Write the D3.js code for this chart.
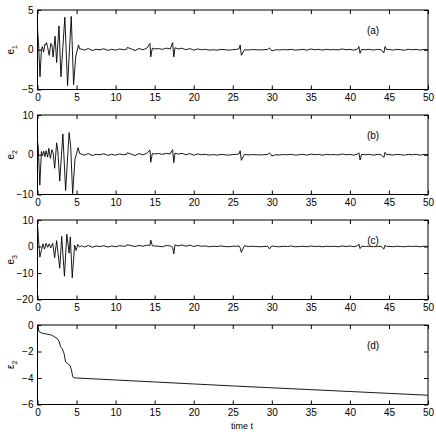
<!DOCTYPE html>
<html>
<head>
<meta charset="utf-8">
<script src="https://cdn.jsdelivr.net/npm/d3@7"></script>
<style>
  body { margin: 0; background: #fff; }
  svg { display: block; font-family: "Liberation Sans", Arial, sans-serif; }
</style>
</head>
<body>
<svg width="436" height="436"></svg>
<script>
// x ticks shared by every panel
const xTicks = [0, 5, 10, 15, 20, 25, 30, 35, 40, 45, 50];

// transient part (t, value) for 0..5.4
const e1Start = [[0,2.6],[0.15,0.5],[0.32,-3.4],[0.5,0],[0.62,0.4],[0.78,-0.3],[0.95,0.7],[1.05,0.6],[1.15,0.9],[1.3,0.3],
  [1.5,-0.7],[1.7,0.8],[1.85,0.6],[2.0,-0.9],[2.25,1.7],[2.45,-1.6],[2.75,3.0],[3.0,-3.4],[3.5,4.1],[3.85,-4.5],
  [4.32,4.2],[4.62,-4.4],[4.9,-0.8],[5.05,-0.2],[5.25,0.6],[5.4,0.1]];
const e2Start = [[0,3.3],[0.1,2.0],[0.3,-7.6],[0.5,0.8],[0.65,-0.2],[0.8,0.9],[0.95,-0.5],[1.1,1.0],[1.3,-0.6],[1.45,1.6],
  [1.65,-0.9],[1.85,1.3],[2.0,0.5],[2.2,-3.4],[2.45,3.0],[2.6,1.0],[2.85,-6.6],[3.25,5.2],[3.6,-9.0],[4.05,5.6],
  [4.25,2.0],[4.5,-9.8],[4.8,-1.0],[5.0,0.2],[5.2,1.8],[5.4,0.3]];
const e3Start = [[0,8.5],[0.12,3],[0.3,-4.0],[0.5,-1.5],[0.7,1.0],[0.9,-1.0],[1.1,1.2],[1.3,-0.3],[1.5,1.0],[1.7,-0.5],
  [1.95,1.2],[2.2,-4.2],[2.45,2.2],[2.85,-8.2],[3.1,3.8],[3.45,-11.2],[3.75,4.6],[4.05,-2.5],[4.2,3.6],[4.45,-11.8],
  [4.75,0.5],[4.95,-1.5],[5.15,0.8],[5.4,-0.2]];

// steady part, shared time base
const tailT = [
  5.6, 6, 6.5, 7, 7.5, 8, 8.5, 9, 9.5, 10,
  10.5, 11, 11.4, 11.5, 12, 12.5, 13, 13.5, 14, 14.4,
  14.5, 14.7, 15, 15.5, 16, 16.5, 17, 17.3, 17.45, 17.6,
  18, 18.5, 19, 19.5, 20, 20.5, 21, 21.5, 22, 22.5,
  23, 23.5, 24, 24.5, 25, 25.5, 25.8, 25.95, 26.1, 26.5,
  27, 27.5, 28, 28.5, 29, 29.5, 29.7, 30, 30.5, 31,
  31.5, 32, 32.5, 33, 33.5, 34, 34.5, 35, 35.5, 36,
  36.5, 37, 37.5, 38, 38.5, 39, 39.5, 40, 40.5, 41,
  41.15, 41.3, 41.5, 42, 42.5, 43, 43.5, 44, 44.35, 44.5,
  44.7, 45, 45.5, 46, 46.5, 47, 47.5, 48, 48.5, 49,
  49.5, 50];
const e1Tail = [
  0.1, -0.05, 0.15, -0.1, 0.05, 0.0, 0.12, -0.08, 0.05, -0.05,
  0.1, 0.0, 0.05, 0.3, 0.1, -0.1, 0.15, 0.0, 0.2, 0.8,
  -0.9, 0.2, 0.1, 0.15, 0.05, 0.2, 0.1, 0.9, -0.9, 0.25,
  0.1, 0.2, 0.0, 0.15, -0.05, 0.1, 0.0, 0.05, -0.05, 0.0,
  -0.05, 0.05, 0.0, -0.05, 0.0, 0.05, 0.1, 0.6, -0.7, 0.0,
  -0.02, 0.02, 0.0, -0.02, 0.0, 0.05, 0.25, -0.15, 0.0, -0.02,
  0.02, 0.0, 0.05, -0.05, 0.0, 0.05, -0.05, 0.1, 0.0, 0.05,
  -0.05, 0.05, 0.0, 0.02, -0.02, 0.1, 0.0, 0.05, -0.05, 0.1,
  0.4, -0.45, 0.05, 0.0, 0.05, -0.05, 0.05, 0.0, -0.4, 0.4,
  0.0, 0.05, -0.05, 0.05, 0.0, -0.05, 0.05, 0.0, 0.05, -0.05,
  0.05, 0.0];
const e2Tail = [
  0.2, -0.1, 0.3, -0.2, 0.1, 0.0, 0.25, -0.15, 0.1, -0.1,
  0.2, 0.0, 0.1, 0.5, 0.15, -0.2, 0.3, 0.0, 0.35, 1.2,
  -1.9, 0.3, 0.2, 0.3, 0.1, 0.35, 0.2, 1.3, -2.0, 0.4,
  0.15, 0.35, 0.0, 0.3, -0.1, 0.2, 0.0, 0.1, -0.1, 0.05,
  -0.1, 0.1, 0.0, -0.1, 0.05, 0.1, 0.2, 1.0, -1.4, 0.1,
  -0.05, 0.05, 0.0, -0.05, 0.0, 0.1, 0.5, -0.3, 0.0, -0.05,
  0.05, 0.0, 0.1, -0.1, 0.0, 0.1, -0.1, 0.15, 0.0, 0.1,
  -0.1, 0.1, 0.0, 0.05, -0.05, 0.2, 0.0, 0.1, -0.1, 0.2,
  0.5, -1.3, 0.1, 0.0, 0.1, -0.1, 0.1, 0.0, -0.7, 0.6,
  0.0, 0.1, -0.1, 0.1, 0.0, -0.1, 0.1, 0.0, 0.1, -0.1,
  0.1, 0.0];
const e3Tail = [
  0.3, -0.2, 0.4, -0.3, 0.2, 0.0, 0.3, -0.2, 0.2, -0.1,
  0.3, 0.1, 0.2, 0.7, 0.3, 0.0, 0.4, 0.1, 0.5, 0.4,
  2.4, 0.3, 0.2, 0.1, -0.1, 0.4, 0.2, -0.3, -2.8, 0.6,
  0.2, 0.6, 0.1, 0.5, 0.0, 0.4, 0.1, 0.2, -0.1, 0.1,
  0.0, 0.2, 0.0, -0.1, 0.1, 0.1, 0.2, -0.5, -2.2, 0.3,
  0.0, 0.1, 0.0, -0.1, 0.0, 0.1, -0.9, 0.2, 0.0, -0.1,
  0.1, 0.0, 0.2, -0.1, 0.0, 0.1, -0.1, 0.2, 0.0, 0.1,
  -0.1, 0.1, 0.0, 0.1, -0.1, 0.2, 0.0, 0.2, -0.1, 0.3,
  0.9, -0.8, 0.1, 0.0, 0.1, -0.1, 0.1, 0.0, -1.0, 0.5,
  0.0, 0.1, -0.1, 0.1, 0.0, -0.1, 0.1, 0.0, 0.1, -0.1,
  0.1, 0.0];

// epsilon_2 estimate
const epsT = [0, 0.2, 0.5, 1.15, 1.8, 2.2, 2.5, 2.8, 2.95, 3.15, 3.4, 3.6, 3.85, 4.15, 4.35, 4.5, 4.7, 5, 10, 15, 20, 25, 30, 35, 40, 45, 50];
const epsV = [0, -0.5, -0.6, -0.68, -0.76, -0.9, -1.0, -1.27, -1.65, -1.77, -2.15, -2.8, -2.9, -3.04, -3.4, -3.9, -3.98, -4.0, -4.15, -4.3, -4.45, -4.6, -4.74, -4.88, -5.02, -5.16, -5.3];

const panels = [
  { sym: "e", sub: "1", tag: "(a)", dom: [-5, 5], ticks: [-5, 0, 5], pts: e1Start.concat(tailT.map((t, i) => [t, e1Tail[i]])) },
  { sym: "e", sub: "2", tag: "(b)", dom: [-10, 10], ticks: [-10, 0, 10], pts: e2Start.concat(tailT.map((t, i) => [t, e2Tail[i]])) },
  { sym: "e", sub: "3", tag: "(c)", dom: [-20, 10], ticks: [-20, -10, 0, 10], pts: e3Start.concat(tailT.map((t, i) => [t, e3Tail[i]])) },
  { sym: "\u03b5", sub: "2", tag: "(d)", dom: [-6, 0], ticks: [-6, -4, -2, 0], pts: epsT.map((t, i) => [t, epsV[i]]) }
];

const svg = d3.select("svg");
const left = 37.5, right = 428, ph = 79.5;
const tops = [10, 115, 220, 325];
const fmt = d3.format("d");

let x = d3.scaleLinear().domain([0, 50]).range([left, right]);

panels.forEach((p, k) => {
  let top = tops[k], bot = top + ph;
  let y = d3.scaleLinear().domain(p.dom).range([bot, top]);
  let g = svg.append("g");

  // ticks pointing inwards on all four sides
  g.append("g").attr("transform", `translate(0,${bot})`)
    .call(d3.axisBottom(x).tickValues(xTicks).tickFormat(fmt).tickSizeInner(-4).tickSizeOuter(0).tickPadding(4));
  g.append("g").attr("transform", `translate(0,${top})`)
    .call(d3.axisTop(x).tickValues(xTicks).tickSizeInner(-4).tickSizeOuter(0).tickFormat(""));
  g.append("g").attr("transform", `translate(${left},0)`)
    .call(d3.axisLeft(y).tickValues(p.ticks).tickFormat(fmt).tickSizeInner(-4).tickSizeOuter(0).tickPadding(4));
  g.append("g").attr("transform", `translate(${right},0)`)
    .call(d3.axisRight(y).tickValues(p.ticks).tickSizeInner(-4).tickSizeOuter(0).tickFormat(""));

  g.selectAll(".domain").remove();
  g.selectAll(".tick line").attr("stroke", "#000");
  g.selectAll(".tick text").attr("font-size", 10).attr("fill", "#000")
    .attr("font-family", "'Liberation Sans', Arial, sans-serif");

  g.append("rect")
    .attr("x", left).attr("y", top)
    .attr("width", right - left).attr("height", ph)
    .attr("fill", "none").attr("stroke", "#000").attr("stroke-width", 1);

  g.append("path")
    .datum(p.pts)
    .attr("fill", "none")
    .attr("stroke", "#000")
    .attr("stroke-width", 0.9)
    .attr("d", d3.line().x(d => x(d[0])).y(d => y(d[1])));

  // y label, rotated, with subscript
  let lab = g.append("text")
    .attr("transform", `translate(14,${(top + bot) / 2}) rotate(-90)`)
    .attr("text-anchor", "middle")
    .attr("font-size", 10);
  lab.append("tspan").text(p.sym);
  lab.append("tspan").attr("font-size", 7).attr("dy", 3).text(p.sub);

  g.append("text")
    .attr("x", 373).attr("y", top + 24)
    .attr("text-anchor", "middle")
    .attr("font-size", 10)
    .text(p.tag);
});

svg.append("text")
  .attr("x", 231).attr("y", 429)
  .attr("font-size", 9)
  .text("time t");
</script>
</body>
</html>
